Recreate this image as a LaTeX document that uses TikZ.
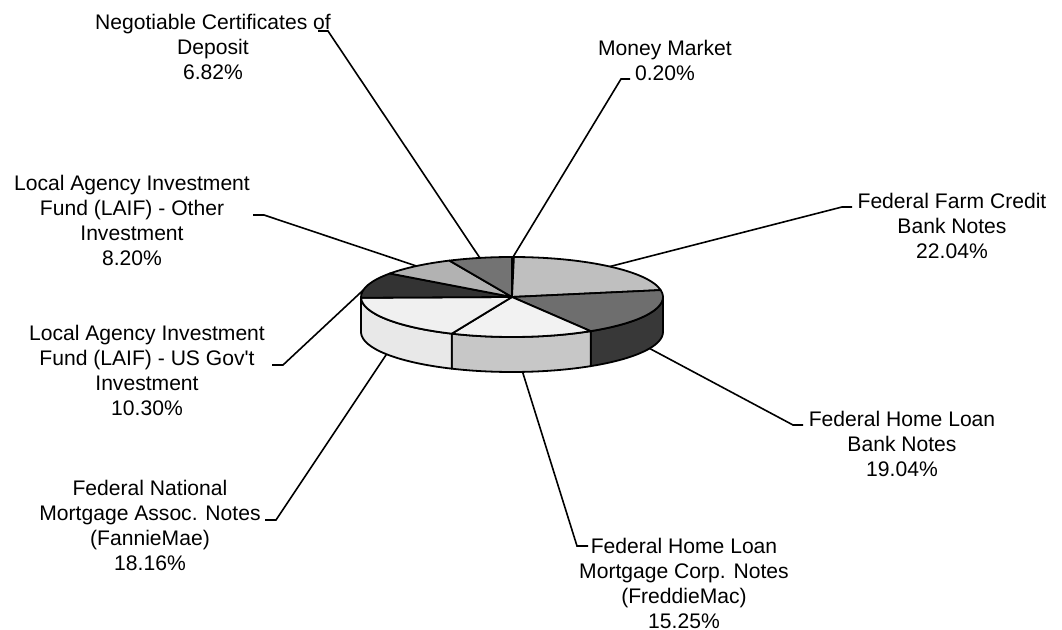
\documentclass[tikz,border=0pt]{standalone}
\usepackage{fontspec}
\setmainfont{Liberation Sans}
\usetikzlibrary{calc}
\tikzset{
  lbl/.style={align=center,inner sep=0pt,font=\fontsize{10.55}{12.5}\selectfont},
  leader/.style={line width=0.8pt},
  slice/.style={draw=black,line width=0.9pt,line join=round}
}
\newcommand{\pietop}[3]{\filldraw[slice,fill=#3] (0,0) -- (#1:151 and 40) arc[start angle=#1,end angle=#2,x radius=151,y radius=40] -- cycle;}
\newcommand{\pieside}[3]{\filldraw[slice,fill=#3] (#1:151 and 40) arc[start angle=#1,end angle=#2,x radius=151,y radius=40] -- ++(0,-35) arc[start angle=#2,end angle=#1,x radius=151,y radius=40] -- cycle;}

\begin{document}
\begin{tikzpicture}[x=0.5pt,y=-0.5pt]
\useasboundingbox (0,0) rectangle (1062,630);
%pie
\begin{scope}[shift={(512,297)},yscale=-1]
\pieside{0}{-58.6}{black!78}
\pieside{-58.6}{-113.5}{black!22}
\pieside{-113.5}{-178.9}{black!9}
\pieside{-178.9}{-180}{black!75}
\pietop{90}{89.28}{black!40}
\pietop{89.28}{9.94}{black!25}
\pietop{9.94}{-58.6}{black!57}
\pietop{-58.6}{-113.5}{black!5}
\pietop{-113.5}{-178.9}{black!6}
\pietop{-178.9}{-216}{black!80}
\pietop{-216}{-245.5}{black!30}
\pietop{-245.5}{-270}{black!55}
%leader points
\coordinate (pNCD) at (102.3:151 and 40);
\coordinate (pMM) at (89.6:151 and 40);
\coordinate (pFFC) at (49.6:151 and 40);
\coordinate (pFHLB) at ($(-24.3:151 and 40)+(0,-35)$);
\coordinate (pFreddie) at ($(-86:151 and 40)+(0,-35)$);
\coordinate (pFannie) at ($(-146.2:151 and 40)+(0,-35)$);
\coordinate (pLUS) at (170:151 and 40);
\coordinate (pLOther) at (129.25:151 and 40);
\end{scope}
%labels
\node[lbl] (lNCD) at (213,47) {Negotiable Certificates of\\Deposit\\6.82\%};
\node[lbl] (lMM) at (665,60) {Money Market\\0.20\%};
\node[lbl] (lFFC) at (952,226) {Federal Farm Credit\\Bank Notes\\22.04\%};
\node[lbl] (lFHLB) at (902,444) {Federal Home Loan\\Bank Notes\\19.04\%};
\node[lbl] (lFreddie) at (684,583) {Federal Home Loan\\Mortgage Corp. Notes\\(FreddieMac)\\15.25\%};
\node[lbl] (lFannie) at (150,525) {Federal National\\Mortgage Assoc. Notes\\(FannieMae)\\18.16\%};
\node[lbl] (lLUS) at (147,370) {Local Agency Investment\\Fund (LAIF) - US Gov\textquotesingle t\\Investment\\10.30\%};
\node[lbl] (lLOther) at (132,220) {Local Agency Investment\\Fund (LAIF) - Other\\Investment\\8.20\%};
%leaders
\coordinate (tNCD) at (318,31);
\coordinate (tMM) at (630,79);
\coordinate (tFFC) at (852,207);
\coordinate (tFHLB) at (803,425);
\coordinate (tFreddie) at (588,546);
\coordinate (tFannie) at (265,520);
\coordinate (tLUS) at (272,365);
\coordinate (tLOther) at (253,215);
\draw[leader] (tNCD) -- ++(10,0) -- (pNCD);
\draw[leader] (tMM) -- ++(-9,0) -- (pMM);
\draw[leader] (tFFC) -- ++(-10,0) -- (pFFC);
\draw[leader] (tFHLB) -- ++(-10,0) -- (pFHLB);
\draw[leader] (tFreddie) -- ++(-11,0) -- (pFreddie);
\draw[leader] (tFannie) -- ++(11,0) -- (pFannie);
\draw[leader] (tLUS) -- ++(11,0) -- (pLUS);
\draw[leader] (tLOther) -- ++(11,0) -- (pLOther);
\end{tikzpicture}
\end{document}
